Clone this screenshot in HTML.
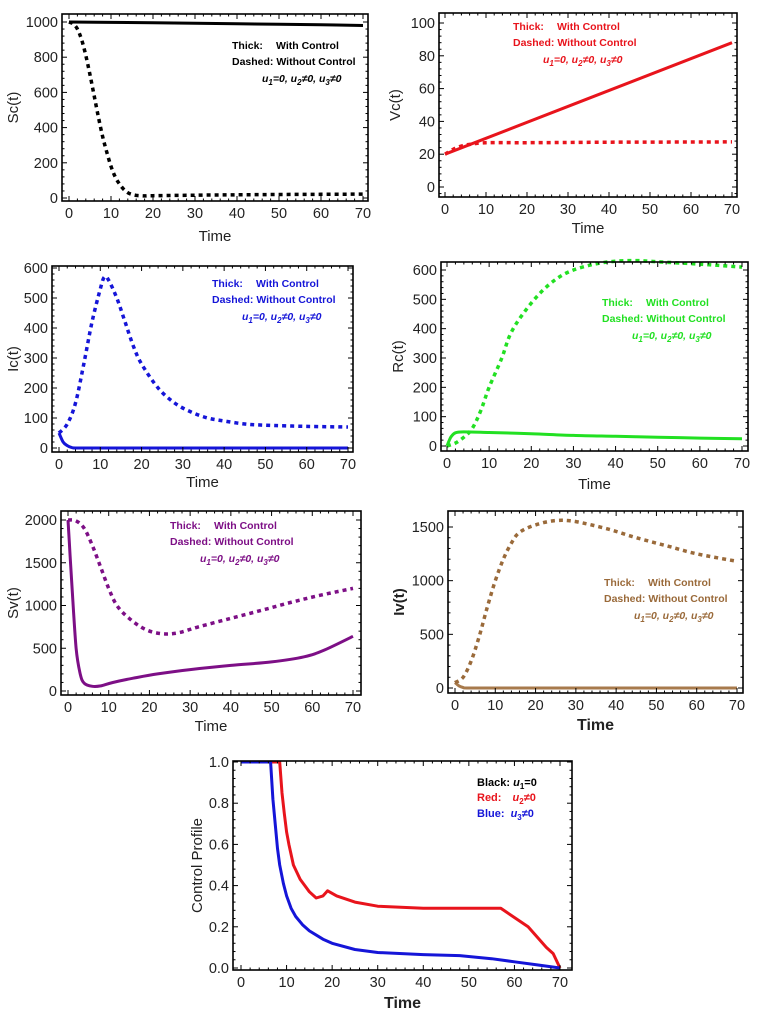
<!DOCTYPE html>
<html><head><meta charset="utf-8"><style>
html,body{margin:0;padding:0;background:#fff;}
svg{display:block;font-family:"Liberation Sans",sans-serif;}
</style></head><body>
<svg id="fig" width="761" height="1018" viewBox="0 0 761 1018" xmlns="http://www.w3.org/2000/svg"></svg>
<script>
// ---- data ----
const xTicks=[0,10,20,30,40,50,60,70];
const scT=[0,10,20,30,40,50,60,70];
const scWith=[1000,998,996,993,990,987,984,980];
const scDT=[0,1,2,3,4,5,6,7,8,9,10,11,12,13,14,15,16,18,20,30,40,50,60,70];
const scWithout=[1000,990,960,900,810,700,580,460,350,260,180,120,80,50,30,20,15,12,13,16,18,20,21,22];
const scTicks=[0,200,400,600,800,1000];
const vcT=[0,70];
const vcWith=[20,88];
const vcDT=[0,2,4,6,10,20,40,70];
const vcWithout=[20,23,25,26,27,27,27.3,27.5];
const vcTicks=[0,20,40,60,80,100];
const icT=[0,1,2,3,4,10,30,50,70];
const icWith=[50,20,8,2,0,0,0,0,0];
const icDT=[0,2,4,6,8,10,11,12,14,16,18,20,24,28,32,36,40,45,50,60,70];
const icWithout=[50,80,150,280,420,530,570,560,500,420,340,280,200,150,120,100,90,80,76,72,70];
const icTicks=[0,100,200,300,400,500,600];
const rcT=[0,0.5,1,2,4,10,20,30,40,50,60,70];
const rcWith=[0,18,32,45,48,46,42,36,33,30,27,25];
const rcDT=[0,2,4,6,8,10,13,15,18,22,26,30,35,40,45,50,60,70];
const rcWithout=[0,10,30,60,120,200,300,380,450,520,570,600,620,630,632,628,620,610];
const rcTicks=[0,100,200,300,400,500,600];
const svT=[0,0.5,1,2,3,4,6,8,11,16,22,30,40,50,58,63,70];
const svWith=[2000,1600,1200,500,200,90,55,60,100,150,200,250,300,340,400,480,640];
const svDT=[0,2,4,6,8,10,12,15,19,23,27,32,40,48,55,62,70];
const svWithout=[2000,1990,1900,1700,1450,1200,1000,850,720,670,680,750,850,950,1040,1120,1200];
const svTicks=[0,500,1000,1500,2000];
const ivT=[0,1,2,3,10,70];
const ivWith=[50,20,5,0,0,0];
const ivDT=[0,2,4,6,8,10,12,14,16,20,25,30,38,45,53,60,70];
const ivWithout=[50,100,250,480,750,1000,1200,1350,1450,1520,1560,1550,1480,1400,1320,1250,1180];
const ivTicks=[0,500,1000,1500];
const u2T=[0,8.5,9,9.5,10,10.5,11.5,13,15,16.5,18,19,21,25,30,40,57,63,67,68.5,70];
const u2=[1,1,0.85,0.75,0.66,0.6,0.5,0.43,0.37,0.34,0.35,0.375,0.35,0.32,0.30,0.29,0.29,0.2,0.1,0.07,0];
const u3T=[0,6.5,7,7.5,8,8.5,9.3,10,11,12,13.5,15,18,20,25,30,40,48,55,60,65,70];
const u3=[1,1,0.82,0.7,0.58,0.5,0.41,0.35,0.29,0.25,0.21,0.18,0.14,0.12,0.09,0.075,0.065,0.06,0.045,0.03,0.015,0];
const cpTicks=[0,0.2,0.4,0.6,0.8,1.0];
const cpTickLabels=["0.0","0.2","0.4","0.6","0.8","1.0"];

const NS="http://www.w3.org/2000/svg";
const fig=document.getElementById('fig');
function mk(tag,attrs,parent){const e=document.createElementNS(NS,tag);for(const k in attrs)e.setAttribute(k,attrs[k]);(parent||fig).appendChild(e);return e;}

function pathD(P,smooth){
  let d='M'+P[0][0].toFixed(1)+','+P[0][1].toFixed(1);
  for(let i=0;i<P.length-1;i++){
    const p0=P[Math.max(0,i-1)],p1=P[i],p2=P[i+1],p3=P[Math.min(P.length-1,i+2)];
    if(!smooth){d+=' L'+p2[0].toFixed(1)+','+p2[1].toFixed(1);continue;}
    const k=1/6;
    const c1=[p1[0]+(p2[0]-p0[0])*k,p1[1]+(p2[1]-p0[1])*k];
    const c2=[p2[0]-(p3[0]-p1[0])*k,p2[1]-(p3[1]-p1[1])*k];
    d+=' C'+c1[0].toFixed(1)+','+c1[1].toFixed(1)+' '+c2[0].toFixed(1)+','+c2[1].toFixed(1)+' '+p2[0].toFixed(1)+','+p2[1].toFixed(1);
  }
  return d;
}

function panel(p){
  const g=mk('g',{});
  
  
  const sx=v=>p.x0+(v-0)/70*(p.x70-p.x0);
  const sy=v=>p.yb+(v-p.ymin)/(p.ymax-p.ymin)*(p.yt-p.yb);
  p.series.forEach(s=>{
    const P=s.t.map((t,i)=>[sx(t),sy(s.v[i])]);
    const pl=mk('path',{d:pathD(P,p.smooth!==false),fill:'none',stroke:s.color,'stroke-width':s.dash?3.5:3,'stroke-dasharray':s.dash?'4,4':'none','stroke-linejoin':'round'},g);
    
    
  });
  const fr=mk('rect',{x:p.L,y:p.T,width:p.R-p.L,height:p.B-p.T,fill:'none',stroke:'#000','stroke-width':1.6},g);
  
  
  for(let v=0;v<=70;v+=2){
    const x=sx(v);if(x<p.L||x>p.R)continue;
    const maj=v%10===0,len=maj?5:2.5;
    mk('line',{x1:x,y1:p.B,x2:x,y2:p.B-len,stroke:'#000','stroke-width':1},g);
    mk('line',{x1:x,y1:p.T,x2:x,y2:p.T+len,stroke:'#000','stroke-width':1},g);
  }
  xTicks.forEach(v=>{
    const t=mk('text',{x:sx(v),y:p.B+17,'text-anchor':'middle','font-size':14.5,fill:'#222'},g);
    t.textContent=v;
    
    
  });
  const step=p.yTicks[1]-p.yTicks[0];const mstep=step/5;
  for(let v=p.yTicks[0]-mstep;v<=p.ymax+1e-9;v+=mstep){
    const y=sy(v);if(y<p.T||y>p.B)continue;
    const maj=Math.abs(Math.round((v-p.yTicks[0])/step)*step-(v-p.yTicks[0]))<1e-6;
    const len=maj?5:2.5;
    mk('line',{x1:p.L,y1:y,x2:p.L+len,y2:y,stroke:'#000','stroke-width':1},g);
    mk('line',{x1:p.R,y1:y,x2:p.R-len,y2:y,stroke:'#000','stroke-width':1},g);
  }
  p.yTicks.forEach((v,i)=>{
    const t=mk('text',{x:p.L-4,y:sy(v)+5,'text-anchor':'end','font-size':14.5,fill:'#222'},g);
    t.textContent=p.yLabels?p.yLabels[i]:v;
    
    
  });
  const xt=mk('text',{x:(p.L+p.R)/2,y:p.xlabY,'text-anchor':'middle','font-size':p.bold?16:15,'font-weight':p.bold?'bold':'normal',fill:'#222'},g);
  xt.textContent='Time';
  
  
  const cy=(p.T+p.B)/2;
  const yt=mk('text',{x:p.ylabX,y:cy,'text-anchor':'middle','font-size':15,'font-weight':p.ylabBold?'bold':'normal',fill:'#222',transform:'rotate(-90 '+p.ylabX+' '+cy+')'},g);
  yt.textContent=p.ylab;
  
  
  if(p.legend){
    const c=p.color,lx=p.legend[0],ly=p.legend[1];
    const lg=mk('g',{'font-size':10.5,'font-weight':'bold',fill:c},g);
    
    
    let t=mk('text',{x:lx,y:ly},lg);t.textContent='Thick:';
    t=mk('text',{x:lx+44,y:ly},lg);t.textContent='With Control';
    t=mk('text',{x:lx,y:ly+16},lg);t.textContent='Dashed:  Without Control';
    t=mk('text',{x:lx+30,y:ly+33,'font-style':'italic'},lg);
    t.innerHTML='u<tspan font-size="8" dy="3">1</tspan><tspan dy="-3">=0, u</tspan><tspan font-size="8" dy="3">2</tspan><tspan dy="-3">≠0, u</tspan><tspan font-size="8" dy="3">3</tspan><tspan dy="-3">≠0</tspan>';
  }
  return {g,sx,sy};
}

panel({name:'sc-panel',L:62,R:368,T:14,B:201,x0:69,x70:363,yb:198,yt:22,ymin:0,ymax:1000,yTicks:scTicks,ylab:'Sc(t)',ylabX:18,xlabY:241,color:'#000',legend:[232,49],
  series:[{name:'sc-with-control',t:scT,v:scWith,color:'#000'},{name:'sc-without-control',t:scDT,v:scWithout,color:'#000',dash:true}]});
panel({name:'vc-panel',L:439,R:737,T:13,B:197,x0:445,x70:732,yb:187,yt:23,ymin:0,ymax:100,yTicks:vcTicks,ylab:'Vc(t)',ylabX:400,xlabY:233,color:'#e8141c',legend:[513,30],
  series:[{name:'vc-with-control',t:vcT,v:vcWith,color:'#e8141c'},{name:'vc-without-control',t:vcDT,v:vcWithout,color:'#e8141c',dash:true}]});
panel({name:'ic-panel',L:52,R:353,T:266,B:452,x0:59,x70:348,yb:448,yt:268,ymin:0,ymax:600,yTicks:icTicks,ylab:'Ic(t)',ylabX:18,xlabY:487,color:'#1515d8',legend:[212,287],
  series:[{name:'ic-with-control',t:icT,v:icWith,color:'#1515d8'},{name:'ic-without-control',t:icDT,v:icWithout,color:'#1515d8',dash:true}]});
panel({name:'rc-panel',L:441,R:748,T:262,B:451,x0:447,x70:742,yb:446,yt:270,ymin:0,ymax:600,yTicks:rcTicks,ylab:'Rc(t)',ylabX:403,xlabY:489,color:'#22e022',legend:[602,306],
  series:[{name:'rc-with-control',t:rcT,v:rcWith,color:'#22e022'},{name:'rc-without-control',t:rcDT,v:rcWithout,color:'#22e022',dash:true}]});
panel({name:'sv-panel',L:61,R:361,T:511,B:695,x0:68,x70:353,yb:691,yt:520,ymin:0,ymax:2000,yTicks:svTicks,ylab:'Sv(t)',ylabX:18,xlabY:731,color:'#7d0f86',legend:[170,529],
  series:[{name:'sv-with-control',t:svT,v:svWith,color:'#7d0f86'},{name:'sv-without-control',t:svDT,v:svWithout,color:'#7d0f86',dash:true}]});
panel({name:'iv-panel',L:448,R:743,T:511,B:693,x0:455,x70:737,yb:688,yt:527,ymin:0,ymax:1500,yTicks:ivTicks,ylab:'Iv(t)',ylabX:404,ylabBold:true,bold:true,xlabY:730,color:'#9a6a3a',legend:[604,586],
  series:[{name:'iv-with-control',t:ivT,v:ivWith,color:'#a77a4c'},{name:'iv-without-control',t:ivDT,v:ivWithout,color:'#9a6a3a',dash:true}]});
panel({name:'control-profile-panel',L:233,R:572,T:761,B:970,x0:241,x70:560,yb:968,yt:762,ymin:0,ymax:1,yTicks:cpTicks,yLabels:cpTickLabels,ylab:'Control Profile',ylabX:202,bold:true,xlabY:1008,color:'#000',smooth:false,
  series:[{name:'u2-red-line',t:u2T,v:u2,color:'#e8141c'},{name:'u3-blue-line',t:u3T,v:u3,color:'#1515d8'}]});
const lg=mk('g',{'font-size':11,'font-weight':'bold'});


let t=mk('text',{x:477,y:786,fill:'#000'},lg);t.innerHTML='Black: <tspan font-style="italic">u</tspan><tspan font-size="8" dy="3">1</tspan><tspan dy="-3">=0</tspan>';
t=mk('text',{x:477,y:801,fill:'#e8141c'},lg);t.innerHTML='Red:   <tspan font-style="italic" dx="8">u</tspan><tspan font-size="8" dy="3">2</tspan><tspan dy="-3">≠0</tspan>';
t=mk('text',{x:477,y:817,fill:'#1515d8'},lg);t.innerHTML='Blue:  <tspan font-style="italic" dx="3">u</tspan><tspan font-size="8" dy="3">3</tspan><tspan dy="-3">≠0</tspan>';
</script>
</body></html>
